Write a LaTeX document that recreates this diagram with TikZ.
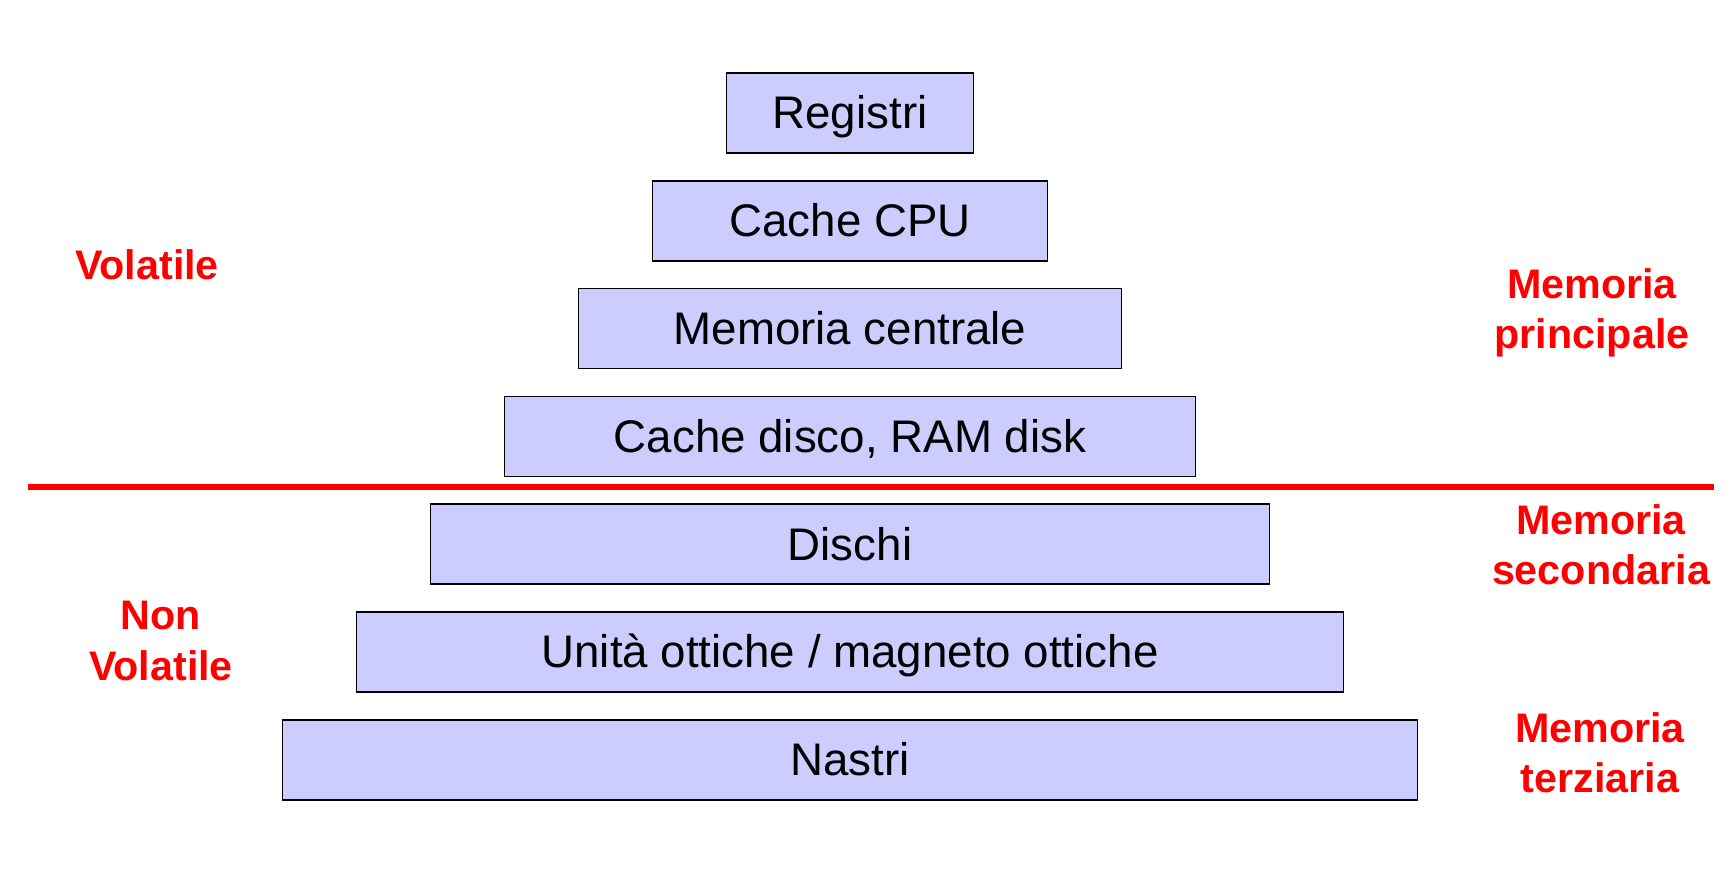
\documentclass[tikz,border=0pt]{standalone}
\usepackage{fontspec}
\setmainfont{Liberation Sans}
\usetikzlibrary{calc}
\definecolor{livello}{RGB}{204,204,255}
\definecolor{rosso}{RGB}{255,0,0}

\begin{document}
\begin{tikzpicture}[x=0.02cm, y=-0.02cm,
	livellobox/.style={draw=black, line width=0.9pt, fill=livello, minimum height=1.6cm, inner sep=0pt, text height=18pt, text depth=0pt, font=\fontsize{26}{30}\selectfont},
	etichetta/.style={rosso, align=center, font=\fontsize{23.5}{28.5}\selectfont\bfseries}]
	\useasboundingbox (0,0) rectangle (1734,890);
	
	% piramide dei livelli
	\foreach \n/\t/\i in {reg/Registri/0, cpu/Cache CPU/1, ram/Memoria centrale/2, cdisk/{Cache disco, RAM disk}/3, dischi/Dischi/4, ottiche/{Unità ottiche / magneto ottiche}/5, nastri/Nastri/6}{
		\pgfmathsetmacro{\w}{0.02*(247+148*\i)}
		\node[livellobox, minimum width=\w cm] (\n) at (850,{113+107.8*\i}) {\t};
	}
	
	\draw[rosso, line width=3.1pt] (28,487) -- (1714,487);
	
	\node[etichetta] (vol) at (147,265) {Volatile};
	\node[etichetta] (nonvol) at (161,641) {Non\\Volatile};
	\node[etichetta] (mprinc) at (1592,313) {Memoria\\principale};
	\node[etichetta] (msec) at (1601,545) {Memoria\\secondaria};
	\node[etichetta] (mter) at (1600,753) {Memoria\\terziaria};
\end{tikzpicture}
\end{document}
